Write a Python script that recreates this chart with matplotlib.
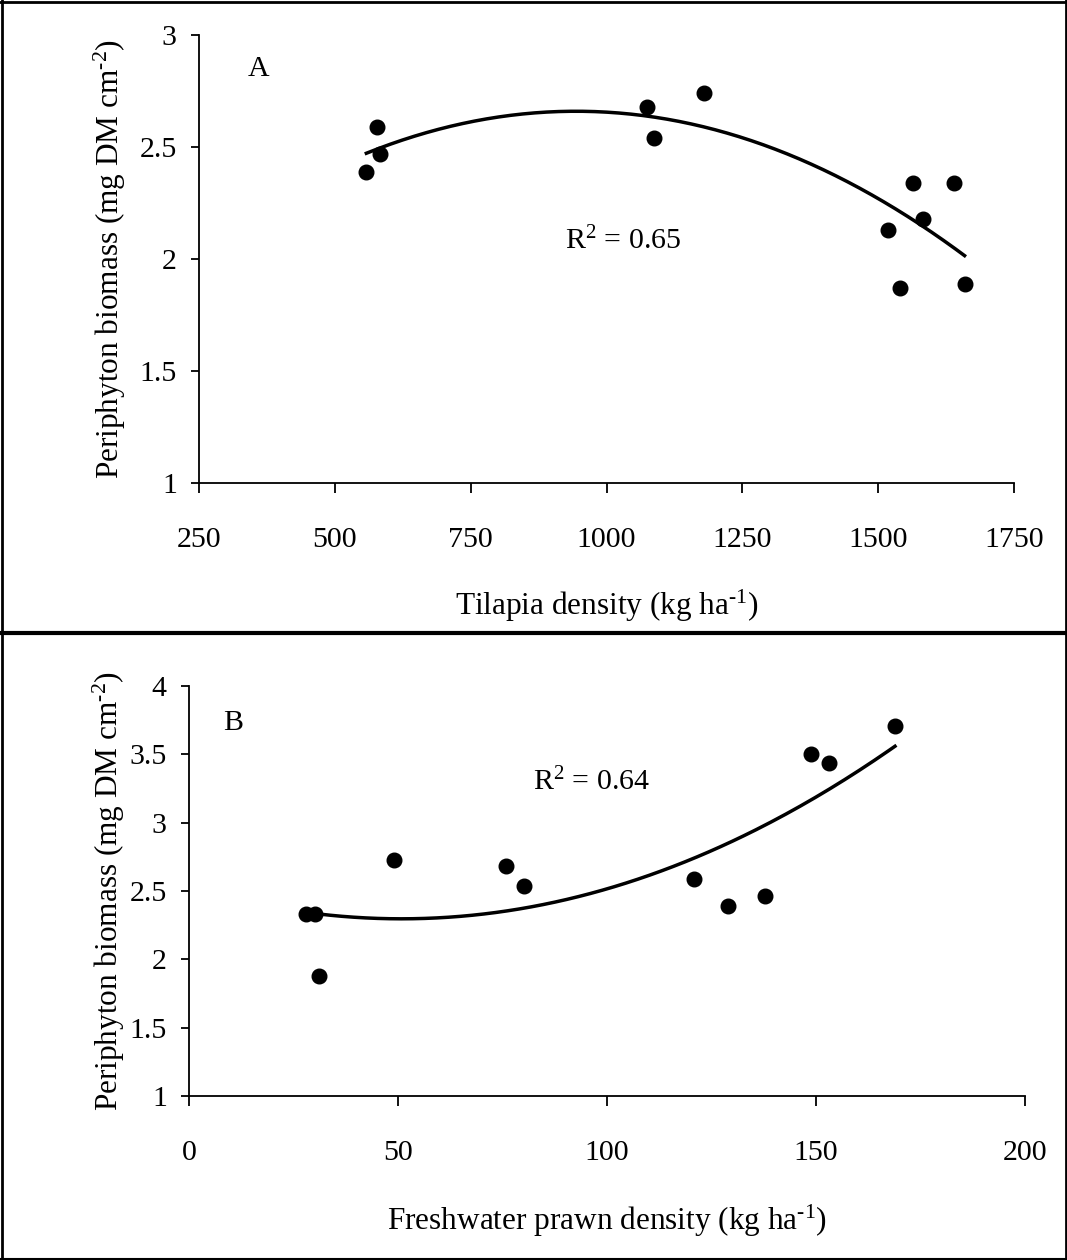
import numpy as np
import matplotlib
matplotlib.use("Agg")
import matplotlib.pyplot as plt
from matplotlib.lines import Line2D

plt.rcParams["font.family"] = ["Liberation Serif", "DejaVu Serif"]
plt.rcParams["mathtext.fontset"] = "custom"
plt.rcParams["mathtext.rm"] = "Liberation Serif"
plt.rcParams["mathtext.it"] = "Liberation Serif:italic"

# Panel A: tilapia density vs periphyton biomass
tilapia_density = [558, 577, 584, 1074, 1087, 1179, 1519, 1564, 1583, 1540, 1639, 1659]
biomass_a = [2.39, 2.59, 2.47, 2.68, 2.54, 2.74, 2.13, 2.34, 2.18, 1.87, 2.34, 1.89]
r2_a = "0.65"
xticks_a = [250, 500, 750, 1000, 1250, 1500, 1750]
yticks_a = [1, 1.5, 2, 2.5, 3]

# Panel B: freshwater prawn density vs periphyton biomass
prawn_density = [28.1, 30.1, 31.1, 49.1, 75.9, 80.2, 120.8, 128.9, 137.9, 148.9, 153.2, 168.9]
biomass_b = [2.33, 2.33, 1.88, 2.73, 2.68, 2.54, 2.59, 2.39, 2.46, 3.50, 3.44, 3.71]
r2_b = "0.64"
xticks_b = [0, 50, 100, 150, 200]
yticks_b = [1, 1.5, 2, 2.5, 3, 3.5, 4]

W, H = 1067, 1260
fig = plt.figure(figsize=(W / 100, H / 100), dpi=100)

FS = 21.5
LFS = 22.5
HY = "\u2010"  # hyphen used in the superscript exponents


def box(l, t, r, b):
    return [l / W, 1 - b / H, (r - l) / W, (b - t) / H]


def panel(ax, x, y, xticks, yticks, letter, letter_xy, r2, r2_xy, xlabel, ylab_x, xlab_pad):
    ax.plot(x, y, "o", color="black", markersize=10.5, zorder=3)
    coef = np.polyfit(x, y, 2)
    xs = np.linspace(min(x), max(x), 200)
    ax.plot(xs, np.polyval(coef, xs), color="black", lw=2.5, zorder=2)
    ax.set_xlim(xticks[0], xticks[-1])
    ax.set_ylim(yticks[0], yticks[-1])
    ax.set_xticks(xticks)
    ax.set_yticks(yticks)
    ax.set_xticklabels([str(v) for v in xticks])
    ax.set_yticklabels([("%g" % v) for v in yticks])
    for s in ("top", "right"):
        ax.spines[s].set_visible(False)
    for s in ("left", "bottom"):
        ax.spines[s].set_linewidth(1.3)
    ax.tick_params(axis="x", direction="out", length=7, width=1.3, pad=25, labelsize=FS)
    ax.tick_params(axis="y", direction="out", length=6, width=1.3, pad=10, labelsize=FS)
    ax.text(*letter_xy, letter, fontsize=FS, va="center", ha="left")
    ax.text(*r2_xy, r"$\mathregular{R^2}$ = " + r2, fontsize=FS, va="center", ha="center")
    ax.set_xlabel(xlabel, fontsize=LFS, labelpad=xlab_pad)
    ax.set_ylabel(r"Periphyton biomass (mg DM cm$^{\mathregular{" + HY + "2}}$)", fontsize=LFS)
    ax.yaxis.set_label_coords(ylab_x, 0.5)


ax_a = fig.add_axes(box(199, 35, 1014, 483))
panel(ax_a, tilapia_density, biomass_a, xticks_a, yticks_a, "A", (340, 2.85), r2_a, (1031, 2.08),
      r"Tilapia density (kg ha$^{\mathregular{" + HY + "1}}$)", -0.0875, 25)

ax_b = fig.add_axes(box(189, 686, 1025, 1096))
panel(ax_b, prawn_density, biomass_b, xticks_b, yticks_b, "B", (8.1, 3.73), r2_b, (96.4, 3.30),
      r"Freshwater prawn density (kg ha$^{\mathregular{" + HY + "1}}$)", -0.074, 26)

# Frame around the figure and divider between the panels
def hline(y, lw):
    fig.add_artist(Line2D([0, 1], [1 - y / H] * 2, color="black", lw=lw, transform=fig.transFigure))


def vline(x, lw):
    fig.add_artist(Line2D([x / W] * 2, [0, 1], color="black", lw=lw, transform=fig.transFigure))


hline(1.5, 2.0)
hline(1258.5, 1.5)
hline(633, 3.0)
vline(1.5, 2.0)
vline(1065.5, 2.0)

fig.savefig("out.png", dpi=100)
